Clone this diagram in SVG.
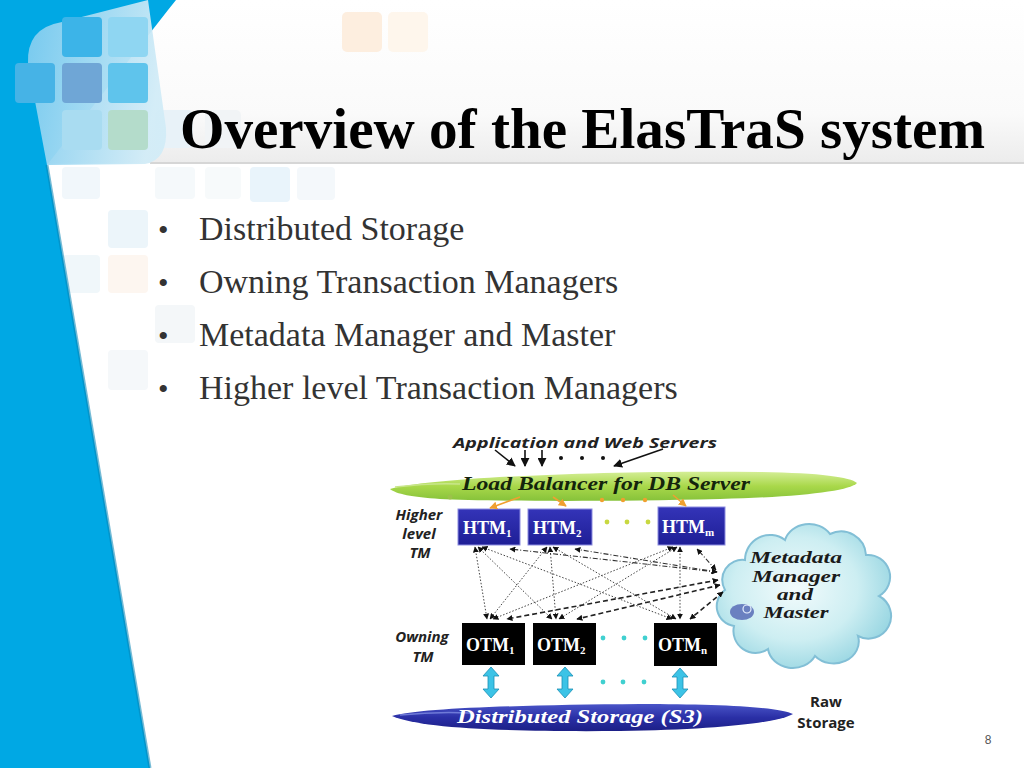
<svg xmlns="http://www.w3.org/2000/svg" width="1024" height="768" viewBox="0 0 1024 768">
<style>
.sq{stroke:none}
.bul{font-family:"Liberation Serif",serif;font-size:34px;fill:#333}
.lbl{font-family:"Open Sans","Liberation Sans",sans-serif;font-weight:bold;font-size:15px;fill:#222}
.box-t{font-family:"Liberation Serif",serif;font-weight:bold;font-size:18px;fill:#fff}
.sub{font-size:11px}
.dot{stroke:#444;stroke-width:1;stroke-dasharray:1.5 1.8;fill:none}
.dd{stroke:#333;stroke-width:1.1;stroke-dasharray:5 2 1 2;fill:none}
.dash{stroke:#222;stroke-width:1.6;stroke-dasharray:5 3;fill:none}
.cy{fill:#3cc3e6;stroke:#1b8fb5;stroke-width:0.8}
.blk{stroke:#111;stroke-width:1.6;fill:none}
.org{stroke:#f0a030;stroke-width:1.6;fill:none}
</style>
<defs>
<linearGradient id="hdr" x1="0" y1="0" x2="0" y2="1">
<stop offset="0" stop-color="#ffffff"/><stop offset="0.7" stop-color="#fafafa"/><stop offset="1" stop-color="#ececec"/>
</linearGradient>
<linearGradient id="card" x1="0" y1="0" x2="1" y2="0.2">
<stop offset="0" stop-color="#7ccbef"/><stop offset="1" stop-color="#d2ecf7"/>
</linearGradient>
<linearGradient id="green" x1="0" y1="0" x2="0" y2="1">
<stop offset="0" stop-color="#d4ee96"/><stop offset="0.5" stop-color="#a9d84a"/><stop offset="1" stop-color="#86c23a"/>
</linearGradient>
<linearGradient id="navy" x1="0" y1="0" x2="0" y2="1">
<stop offset="0" stop-color="#4a55c8"/><stop offset="0.5" stop-color="#2a2fa6"/><stop offset="1" stop-color="#1c1f86"/>
</linearGradient>
<linearGradient id="htm" x1="0" y1="0" x2="0" y2="1">
<stop offset="0" stop-color="#3434b8"/><stop offset="1" stop-color="#1e1e96"/>
</linearGradient>
<radialGradient id="cloud" cx="0.45" cy="0.45" r="0.6">
<stop offset="0" stop-color="#f2fbfc"/><stop offset="0.6" stop-color="#cdeef2"/><stop offset="1" stop-color="#98d6e2"/>
</radialGradient>
<marker id="ah" viewBox="0 0 10 10" refX="9" refY="5" markerWidth="6" markerHeight="6" markerUnits="userSpaceOnUse" orient="auto-start-reverse">
<path d="M0,0 L10,5 L0,10 Z" fill="#111"/>
</marker>
<marker id="ahb" viewBox="0 0 10 10" refX="9" refY="5" markerWidth="9" markerHeight="9" markerUnits="userSpaceOnUse" orient="auto">
<path d="M0,0 L10,5 L0,10 Z" fill="#111"/>
</marker>
<marker id="aho" viewBox="0 0 10 10" refX="9" refY="5" markerWidth="8" markerHeight="8" markerUnits="userSpaceOnUse" orient="auto">
<path d="M0,0 L10,5 L0,10 Z" fill="#f0a030"/>
</marker>
</defs>

<!-- background -->
<rect x="0" y="0" width="1024" height="768" fill="#fff"/>
<rect x="0" y="0" width="1024" height="163" fill="url(#hdr)"/>
<line x1="150" y1="163" x2="1024" y2="163" stroke="#d6d6d6" stroke-width="2"/>

<!-- faint squares -->
<g class="sq">
<rect x="342" y="12" width="40" height="40" rx="5" fill="#fdeedf"/>
<rect x="388" y="12" width="40" height="40" rx="5" fill="#fef6ec"/>
<rect x="155" y="110" width="38" height="38" rx="5" fill="#e8f2f8"/>
<rect x="205" y="110" width="36" height="38" rx="5" fill="#f1f4f6"/>
<rect x="62" y="167" width="38" height="32" rx="4" fill="#f1f7fb"/>
<rect x="155" y="167" width="40" height="32" rx="4" fill="#f5f9fb"/>
<rect x="205" y="167" width="36" height="32" rx="4" fill="#f7fafb"/>
<rect x="250" y="167" width="40" height="35" rx="4" fill="#e9f4fb"/>
<rect x="297" y="167" width="38" height="33" rx="4" fill="#f4f8fb"/>
<rect x="108" y="210" width="40" height="38" rx="4" fill="#ecf5fa"/>
<rect x="62" y="255" width="38" height="38" rx="4" fill="#f0f7fa"/>
<rect x="108" y="255" width="40" height="38" rx="4" fill="#fdf6f0"/>
<rect x="155" y="305" width="40" height="38" rx="4" fill="#f4f7f9"/>
<rect x="108" y="350" width="40" height="40" rx="4" fill="#f5f8fa"/>
</g>

<!-- left blue band -->
<polygon points="0,0 176,0 168,10 47,165 150,768 0,768" fill="#00a8e4"/>
<line x1="47" y1="165" x2="150" y2="768" stroke="#0685b6" stroke-width="3" opacity="0.55"/>
<path d="M28,64 Q26,28 62,22 L148,0 L166,128 Q168,160 145,164 L47,165 Z" fill="url(#card)" opacity="0.95"/>
<g class="sq">
<rect x="62" y="17" width="40" height="40" rx="4" fill="#3cb4e8"/>
<rect x="108" y="17" width="40" height="40" rx="4" fill="#8fd6f2"/>
<rect x="15" y="63" width="40" height="40" rx="4" fill="#46b3e6"/>
<rect x="62" y="63" width="40" height="40" rx="4" fill="#6fa6d6"/>
<rect x="108" y="63" width="40" height="40" rx="4" fill="#5fc4ec"/>
<rect x="62" y="110" width="40" height="40" rx="4" fill="#a9dcf1"/>
<rect x="108" y="110" width="40" height="40" rx="4" fill="#b4dccb"/>
</g>

<!-- title and bullets -->
<text x="180" y="148" font-family="Liberation Serif,serif" font-weight="bold" font-size="56" fill="#000" textLength="805" lengthAdjust="spacingAndGlyphs">Overview of the ElasTraS system</text>
<g class="bul">
<text x="158" y="240" font-size="30">•</text><text x="199" y="240">Distributed Storage</text>
<text x="158" y="293" font-size="30">•</text><text x="199" y="293">Owning Transaction Managers</text>
<text x="158" y="346" font-size="30">•</text><text x="199" y="346">Metadata Manager and Master</text>
<text x="158" y="399" font-size="30">•</text><text x="199" y="399">Higher level Transaction Managers</text>
</g>

<!-- diagram labels -->
<text class="lbl" x="585" y="448" font-size="17" font-style="italic" text-anchor="middle" textLength="264" lengthAdjust="spacingAndGlyphs">Application and Web Servers</text>
<g class="lbl" font-style="italic" text-anchor="middle">
<text x="419" y="520">Higher</text>
<text x="419" y="539">level</text>
<text x="420" y="558">TM</text>
<text x="422" y="642">Owning</text>
<text x="423" y="662">TM</text>
</g>
<g class="lbl" font-size="16" text-anchor="middle">
<text x="826" y="707">Raw</text>
<text x="826" y="728">Storage</text>
</g>

<!-- load balancer -->
<g id="load-balancer">
<path d="M390,489 C430,478 600,470 760,472 C820,473 850,477 857,483 C850,491 800,497 720,499 C600,502 480,501 440,499 C412,497 396,494 390,489 Z" fill="url(#green)"/>
<path d="M395,487 C420,484 440,483 460,484" stroke="#c8e68a" stroke-width="1.5" fill="none"/>
<circle cx="450" cy="497" r="2.5" fill="#9cc24a"/>
<text x="462" y="490" font-family="Liberation Serif,serif" font-weight="bold" font-style="italic" font-size="18" fill="#14240c" textLength="288" lengthAdjust="spacingAndGlyphs">Load Balancer for DB Server</text>
</g>

<!-- HTM nodes -->
<g id="htm1">
<rect x="458" y="509" width="62" height="36" fill="url(#htm)" stroke="#8c8ce0" stroke-width="1"/>
<text class="box-t" x="463" y="534">HTM<tspan class="sub" dy="3">1</tspan></text>
</g>
<g id="htm2">
<rect x="528" y="509" width="64" height="36" fill="url(#htm)" stroke="#8c8ce0" stroke-width="1"/>
<text class="box-t" x="533" y="534">HTM<tspan class="sub" dy="3">2</tspan></text>
</g>
<g id="htmm">
<rect x="658" y="507" width="67" height="38" fill="url(#htm)" stroke="#8c8ce0" stroke-width="1"/>
<text class="box-t" x="662" y="533">HTM<tspan class="sub" dy="3">m</tspan></text>
</g>

<!-- OTM nodes -->
<g id="otm1">
<rect x="462" y="623" width="63" height="42" fill="#000"/>
<text class="box-t" x="466" y="651">OTM<tspan class="sub" dy="3">1</tspan></text>
</g>
<g id="otm2">
<rect x="533" y="623" width="63" height="42" fill="#000"/>
<text class="box-t" x="537" y="651">OTM<tspan class="sub" dy="3">2</tspan></text>
</g>
<g id="otmn">
<rect x="654" y="623" width="63" height="43" fill="#000"/>
<text class="box-t" x="658" y="651">OTM<tspan class="sub" dy="3">n</tspan></text>
</g>

<!-- metadata cloud -->
<g id="metadata">
<path d="M745,560 A25,25 0 0 1 785,540 A25,22 0 0 1 830,534 A25,25 0 0 1 866,555 A22,22 0 0 1 879,596 A22,22 0 0 1 858,636 A25,22 0 0 1 815,656 A25,22 0 0 1 768,649 A22,22 0 0 1 734,626 A20,20 0 0 1 725,590 A20,20 0 0 1 745,560 Z" fill="url(#cloud)" stroke="#82bfd6" stroke-width="2"/>
<ellipse cx="742" cy="612" rx="12" ry="8" fill="#6a80c0"/>
<circle cx="747" cy="609" r="4" fill="none" stroke="#e8f0ff" stroke-width="1.2"/>
<g font-family="Liberation Serif,serif" font-weight="bold" font-style="italic" font-size="17" fill="#1a1a1a" text-anchor="middle" lengthAdjust="spacingAndGlyphs">
<text x="796" y="563" textLength="92" lengthAdjust="spacingAndGlyphs">Metadata</text>
<text x="796" y="582" textLength="88" lengthAdjust="spacingAndGlyphs">Manager</text>
<text x="795" y="600" textLength="36" lengthAdjust="spacingAndGlyphs">and</text>
<text x="796" y="618" textLength="65" lengthAdjust="spacingAndGlyphs">Master</text>
</g>
</g>

<!-- distributed storage -->
<g id="storage">
<path d="M392,716 C420,708 520,705 640,704 C720,704 780,707 793,714 C780,722 720,730 620,731 C500,732 420,728 392,716 Z" fill="url(#navy)"/>
<path d="M400,715 C430,712 450,712 470,713" stroke="#6f7ad8" stroke-width="1.5" fill="none"/>
<text x="457" y="723" font-family="Liberation Serif,serif" font-weight="bold" font-style="italic" font-size="18" fill="#fff" textLength="246" lengthAdjust="spacingAndGlyphs">Distributed Storage (S3)</text>
</g>

<!-- connectors -->
<g id="connectors">
<line class="blk" x1="495" y1="450" x2="515" y2="466" marker-end="url(#ahb)"/>
<line class="blk" x1="525" y1="450" x2="525" y2="466" marker-end="url(#ahb)"/>
<line class="blk" x1="542" y1="450" x2="542" y2="466" marker-end="url(#ahb)"/>
<line class="blk" x1="663" y1="449" x2="614" y2="466" marker-end="url(#ahb)"/>
<g fill="#111"><circle cx="561" cy="458" r="2"/><circle cx="582" cy="458" r="2"/><circle cx="603" cy="458" r="2"/></g>
<line class="org" x1="520" y1="497" x2="490" y2="508" marker-end="url(#aho)"/>
<line class="org" x1="553" y1="497" x2="566" y2="506" marker-end="url(#aho)"/>
<line class="org" x1="673" y1="495" x2="686" y2="506" marker-end="url(#aho)"/>
<g fill="#f0a030"><circle cx="602" cy="500" r="2.2"/><circle cx="623" cy="500" r="2.2"/><circle cx="645" cy="500" r="2.2"/></g>
<g fill="#c8d840"><circle cx="607" cy="522" r="2.4"/><circle cx="627" cy="522" r="2.4"/><circle cx="648" cy="522" r="2.4"/></g>
<g fill="#40d0d0"><circle cx="603" cy="638" r="2.4"/><circle cx="624" cy="638" r="2.4"/><circle cx="645" cy="638" r="2.4"/></g>
<g fill="#40d0d0"><circle cx="603" cy="682" r="2.4"/><circle cx="623" cy="682" r="2.4"/><circle cx="644" cy="682" r="2.4"/></g>
<line class="dot" x1="475" y1="547" x2="487" y2="619" marker-start="url(#ah)" marker-end="url(#ah)"/>
<line class="dot" x1="478" y1="547" x2="552" y2="619" marker-start="url(#ah)" marker-end="url(#ah)"/>
<line class="dot" x1="482" y1="547" x2="672" y2="619" marker-start="url(#ah)" marker-end="url(#ah)"/>
<line class="dot" x1="547" y1="547" x2="490" y2="619" marker-start="url(#ah)" marker-end="url(#ah)"/>
<line class="dot" x1="550" y1="547" x2="556" y2="619" marker-start="url(#ah)" marker-end="url(#ah)"/>
<line class="dot" x1="553" y1="547" x2="676" y2="619" marker-start="url(#ah)" marker-end="url(#ah)"/>
<line class="dot" x1="673" y1="547" x2="493" y2="619" marker-start="url(#ah)" marker-end="url(#ah)"/>
<line class="dot" x1="677" y1="547" x2="559" y2="619" marker-start="url(#ah)" marker-end="url(#ah)"/>
<line class="dot" x1="680" y1="547" x2="680" y2="619" marker-start="url(#ah)" marker-end="url(#ah)"/>
<line class="dd" x1="717" y1="572" x2="510" y2="549" marker-start="url(#ah)" marker-end="url(#ah)"/>
<line class="dd" x1="717" y1="572" x2="575" y2="549" marker-start="url(#ah)" marker-end="url(#ah)"/>
<line class="dd" x1="716" y1="570" x2="697" y2="549" marker-start="url(#ah)" marker-end="url(#ah)"/>
<line class="dash" x1="718" y1="580" x2="507" y2="619" marker-start="url(#ah)" marker-end="url(#ah)"/>
<line class="dash" x1="720" y1="585" x2="577" y2="619" marker-start="url(#ah)" marker-end="url(#ah)"/>
<line class="dash" x1="723" y1="592" x2="690" y2="619" marker-start="url(#ah)" marker-end="url(#ah)"/>
<polygon class="cy" points="491,667 499,676 494,676 494,689 499,689 491,698 483,689 488,689 488,676 483,676"/>
<polygon class="cy" points="565,667 573,676 568,676 568,689 573,689 565,698 557,689 562,689 562,676 557,676"/>
<polygon class="cy" points="680,668 688,677 683,677 683,689 688,689 680,698 672,689 677,689 677,677 672,677"/>
</g>

<text x="988" y="744" font-family="Liberation Sans,sans-serif" font-size="12" fill="#555" text-anchor="middle">8</text>
</svg>
